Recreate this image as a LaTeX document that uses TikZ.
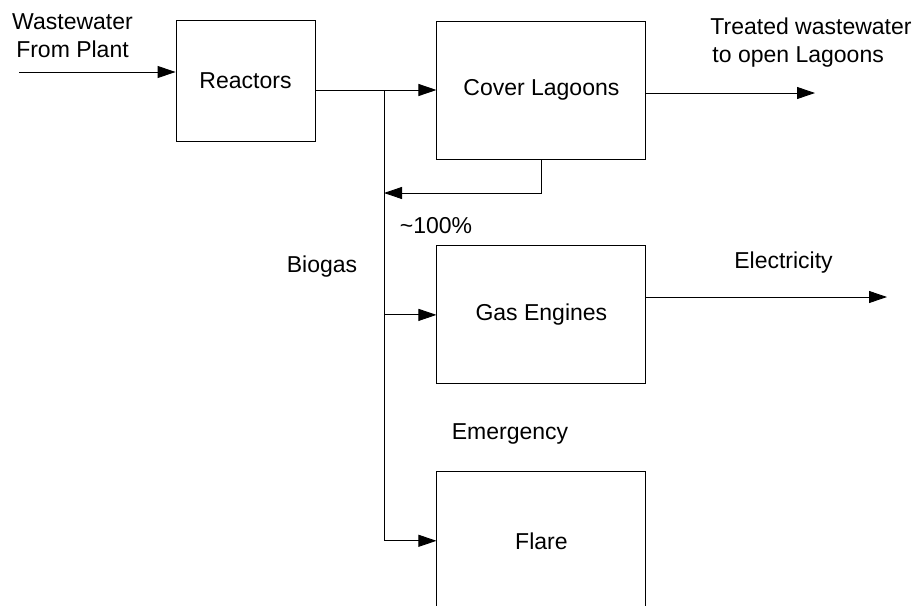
\documentclass[tikz,border=0pt]{standalone}
\usepackage{fontspec}
\setmainfont{Liberation Sans}
\usetikzlibrary{arrows.meta,positioning}
\tikzset{
  >={Triangle[length=18pt,width=12pt]},
  every picture/.append style={line width=0.9pt},
}

\begin{document}
\begin{tikzpicture}[
  x=1pt, y=1pt,
  node distance=86pt and 121pt,
  every node/.style={font=\fontsize{23}{28}\selectfont},
  unit/.style={rectangle, draw=black, line width=0.9pt, align=center, inner sep=0pt, minimum width=209pt, minimum height=138pt},
  label/.style={align=center, inner sep=0pt},
  arrow/.style={->, line width=0.9pt, color=black},
  flow/.style={line width=0.9pt, color=black}
]
\useasboundingbox (0,0) rectangle (915,-605);

% Process units
\node[unit, minimum width=139pt, minimum height=121pt] (reactors) at (245.5,-80.5) {Reactors};
\node[unit, right=of reactors, yshift=-9.5pt] (lagoons) {Cover Lagoons};
\node[unit, below=of lagoons] (engines) {Gas Engines};
\node[unit, below=87pt of engines] (flare) {Flare};

% Free ends and the biogas header
\coordinate (inlet) at (19,-72);
\coordinate (split) at (384,-90);
\coordinate (outlet) at (815,-93);
\coordinate (recycle) at (384,-193);
\coordinate (power) at (887,-297);

% Wastewater line
\draw[arrow] (inlet) -- (inlet -| reactors.west);
\draw[arrow] (reactors.east |- split) -- (lagoons.west);
\draw[arrow] (lagoons.east |- outlet) -- (outlet);

% Biogas from lagoons back to the header
\draw[arrow] (lagoons.south) |- (recycle);
\draw[flow] (split) -- (split |- flare.west);
\draw[arrow] (split |- engines.west) -- (engines.west);
\draw[arrow] (split |- flare.west) -- (flare.west);

% Electricity out
\draw[arrow] (engines.east |- power) -- (power);

% Stream labels
\node[label] (inflow) at (72.5,-36) {Wastewater\\From Plant};
\node[label, align=left, anchor=west] (treated) at (710,-43) {Treated wastewater\\\hspace{2pt}to open Lagoons};
\node[label] (biogas) at (322,-267) {Biogas};
\node[label] (share) at (436,-226) {\textasciitilde100\%};
\node[label] (electricity) at (783.5,-263) {Electricity};
\node[label] (emergency) at (510,-434) {Emergency};

\end{tikzpicture}
\end{document}
